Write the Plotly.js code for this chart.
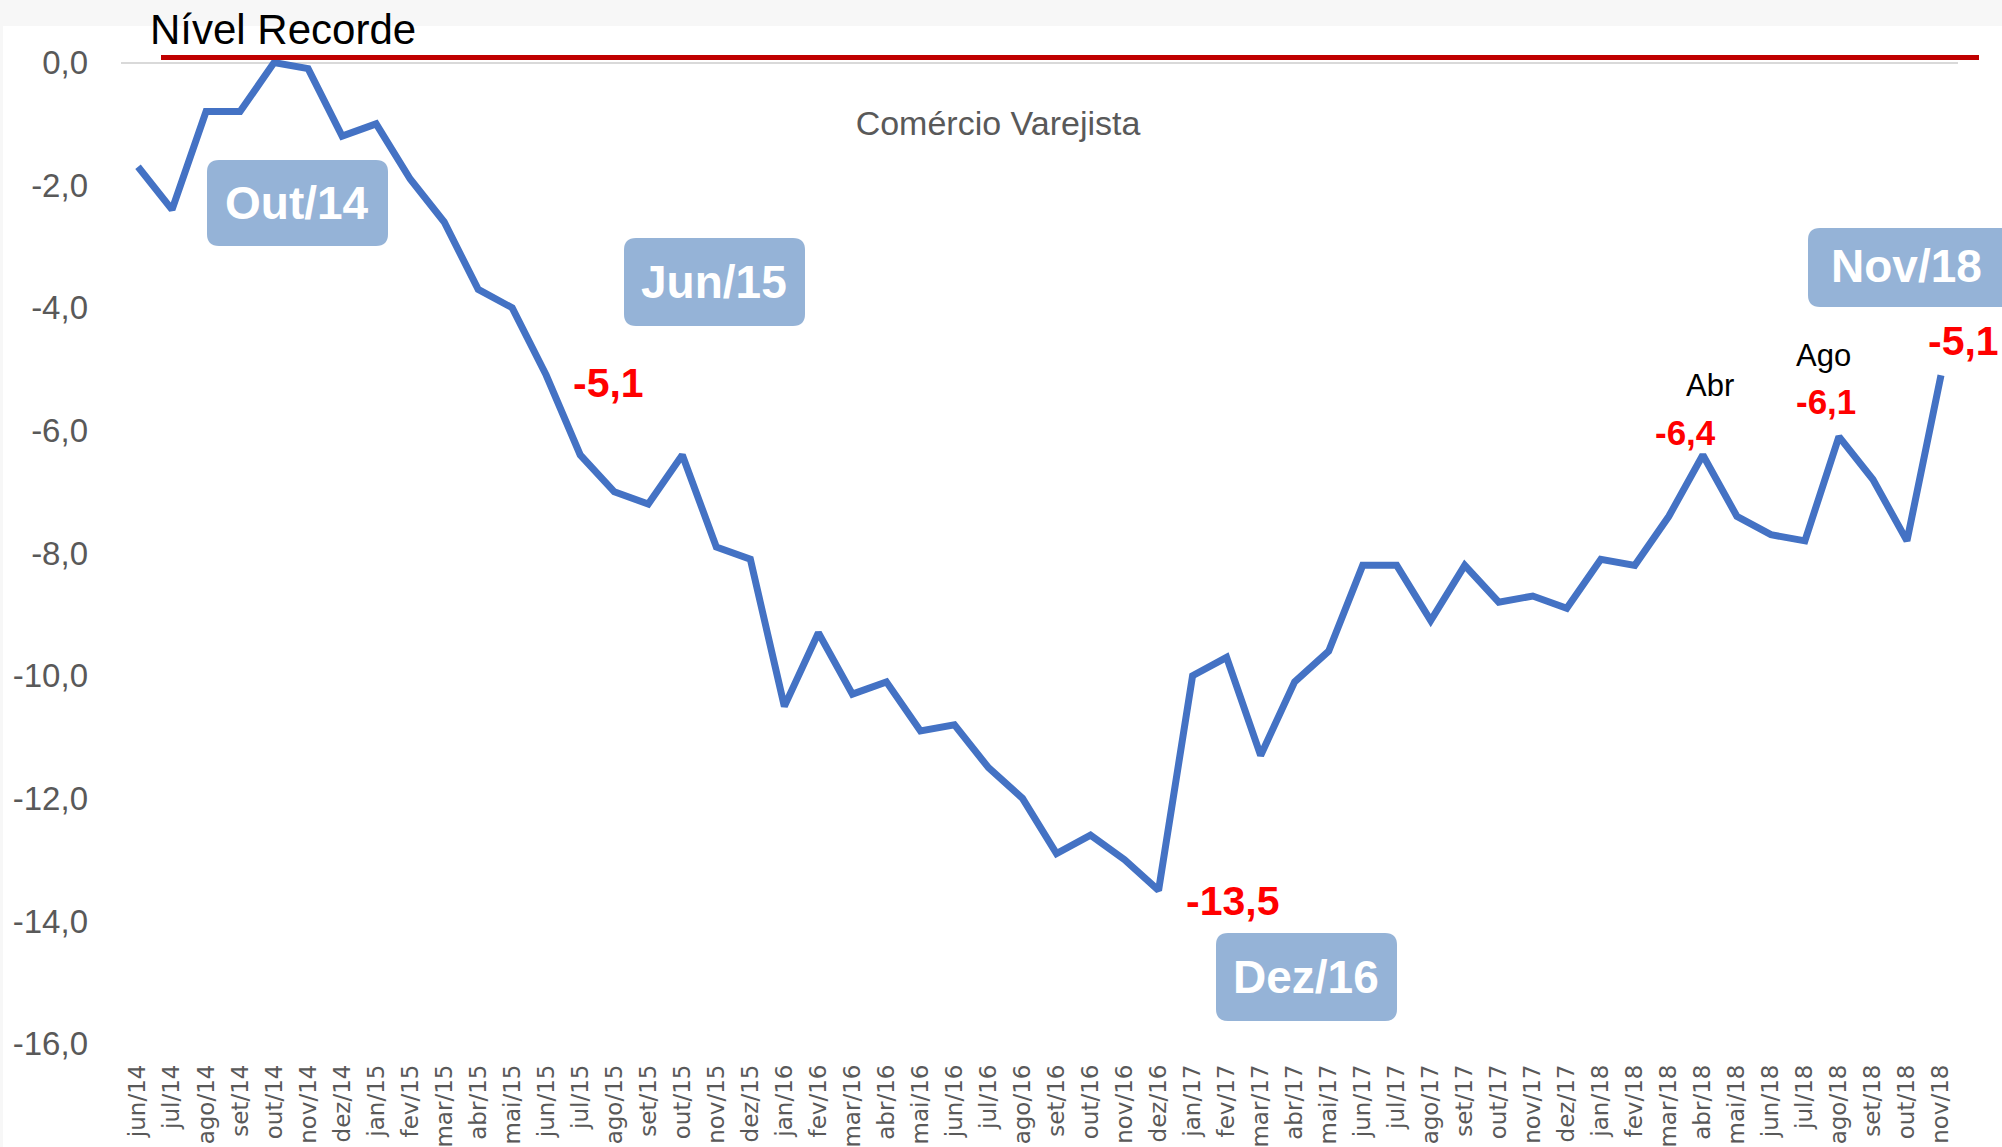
<!DOCTYPE html>
<html>
<head>
<meta charset="utf-8">
<script src="https://cdn.plot.ly/plotly-3.0.1.min.js"></script>
<style>html,body{margin:0;padding:0;background:#fff;}#chart{width:2002px;height:1147px;}</style>
</head>
<body>
<div id="chart"></div>
<script>
const categories = ['jun/14','jul/14','ago/14','set/14','out/14','nov/14','dez/14',
  'jan/15','fev/15','mar/15','abr/15','mai/15','jun/15','jul/15','ago/15','set/15','out/15','nov/15','dez/15',
  'jan/16','fev/16','mar/16','abr/16','mai/16','jun/16','jul/16','ago/16','set/16','out/16','nov/16','dez/16',
  'jan/17','fev/17','mar/17','abr/17','mai/17','jun/17','jul/17','ago/17','set/17','out/17','nov/17','dez/17',
  'jan/18','fev/18','mar/18','abr/18','mai/18','jun/18','jul/18','ago/18','set/18','out/18','nov/18'];

const values = [-1.7,-2.4,-0.8,-0.8,0.0,-0.1,-1.2,
  -1.0,-1.9,-2.6,-3.7,-4.0,-5.1,-6.4,-7.0,-7.2,-6.4,-7.9,-8.1,
  -10.5,-9.3,-10.3,-10.1,-10.9,-10.8,-11.5,-12.0,-12.9,-12.6,-13.0,-13.5,
  -10.0,-9.7,-11.3,-10.1,-9.6,-8.2,-8.2,-9.1,-8.2,-8.8,-8.7,-8.9,
  -8.1,-8.2,-7.4,-6.4,-7.4,-7.7,-7.8,-6.1,-6.8,-7.8,-5.1];

const yTickVals = [-16,-14,-12,-10,-8,-6,-4,-2,0];
const yTickText = ['-16,0','-14,0','-12,0','-10,0','-8,0','-6,0','-4,0','-2,0','0,0'];

const recordLevelText = 'Nível Recorde';
const chartTitle = 'Comércio Varejista';
const recordLevel = 0.08;

// callout boxes: label + category they refer to
const boxLabels = ['Out/14','Jun/15','Dez/16','Nov/18'];
// value labels: category index and optional month caption
const valueLabelIdx = [12, 30, 46, 50, 53];
const monthCaptions = {46:'Abr', 50:'Ago'};

// ---- layout geometry (pixels) ----
const W = 2002, H = 1147;
const M = {l:121, r:44, t:38, b:88};
const L = M.l, R = W - M.r, T = M.t, B = H - M.b;
const px2x = p => (p - L) / (R - L);
const py2y = p => (B - p) / (B - T);

function roundRect(x0, y0, x1, y1, r) {
  const X = px2x, Y = py2y;
  return `M ${X(x0+r)},${Y(y0)} L ${X(x1-r)},${Y(y0)} Q ${X(x1)},${Y(y0)} ${X(x1)},${Y(y0+r)} ` +
         `L ${X(x1)},${Y(y1-r)} Q ${X(x1)},${Y(y1)} ${X(x1-r)},${Y(y1)} ` +
         `L ${X(x0+r)},${Y(y1)} Q ${X(x0)},${Y(y1)} ${X(x0)},${Y(y1-r)} ` +
         `L ${X(x0)},${Y(y0+r)} Q ${X(x0)},${Y(y0)} ${X(x0+r)},${Y(y0)} Z`;
}

const boxGeom = [
  [207, 160, 388, 246],
  [624, 238, 805, 326],
  [1216, 933, 1397, 1021],
  [1808, 228, 2012, 307]
];

const shapes = [
  {type:'rect', xref:'paper', yref:'paper', x0:px2x(0), x1:px2x(W), y0:py2y(0), y1:py2y(26),
   fillcolor:'#F7F7F7', line:{width:0}, layer:'below'},
  {type:'rect', xref:'paper', yref:'paper', x0:px2x(0), x1:px2x(3), y0:py2y(26), y1:py2y(H),
   fillcolor:'#F7F7F7', line:{width:0}, layer:'below'},
  {type:'line', xref:'paper', yref:'y', x0:px2x(161), x1:px2x(1979), y0:recordLevel, y1:recordLevel,
   line:{color:'#C00000', width:5}, layer:'above'}
];
boxGeom.forEach(g => {
  shapes.push({type:'path', xref:'paper', yref:'paper', path:roundRect(g[0], g[1], g[2], g[3], 12),
    fillcolor:'#95B3D7', line:{width:0}, layer:'above'});
});

const annotations = [];
annotations.push({xref:'paper', yref:'paper', x:px2x(283), y:py2y(30), xanchor:'center', yanchor:'middle',
  text:recordLevelText, showarrow:false, font:{family:'Liberation Sans, Arial, sans-serif', size:42, color:'#000000'}});

const boxCenters = [[297,203],[714,282],[1306,977],[1906,266]];
boxLabels.forEach((t, i) => {
  annotations.push({xref:'paper', yref:'paper', x:px2x(boxCenters[i][0]), y:py2y(boxCenters[i][1]),
    xanchor:'center', yanchor:'middle', text:'<b>'+t+'</b>', showarrow:false,
    font:{family:'Liberation Sans, Arial, sans-serif', size:46, color:'#FFFFFF'}});
});

const fmt = v => v.toFixed(1).replace('.', ',');
const valueShift = {12:[62,-8,41], 30:[74,-11,41], 46:[-17,22,35], 50:[-13,35,35], 53:[23,34,41]};
valueLabelIdx.forEach(i => {
  const s = valueShift[i];
  annotations.push({x:categories[i], y:values[i], xref:'x', yref:'y', xshift:s[0], yshift:s[1],
    xanchor:'center', yanchor:'middle', showarrow:false, text:'<b>'+fmt(values[i])+'</b>',
    font:{family:'Liberation Sans, Arial, sans-serif', size:s[2], color:'#FF0000'}});
});
const captionShift = {46:[7,69], 50:[-15,81]};
Object.keys(monthCaptions).forEach(k => {
  const i = +k, s = captionShift[i];
  annotations.push({x:categories[i], y:values[i], xref:'x', yref:'y', xshift:s[0], yshift:s[1],
    xanchor:'center', yanchor:'middle', showarrow:false, text:monthCaptions[i],
    font:{family:'Liberation Sans, Arial, sans-serif', size:31, color:'#000000'}});
});

const trace = {
  type:'scatter', mode:'lines', x:categories, y:values,
  line:{color:'#4472C4', width:7}, hoverinfo:'skip'
};

const layout = {
  width:W, height:H,
  margin:M,
  paper_bgcolor:'#FFFFFF', plot_bgcolor:'#FFFFFF',
  showlegend:false,
  title:{text:chartTitle, x:998/W, y:1-123/H, xref:'container', yref:'container',
    xanchor:'center', yanchor:'middle',
    font:{family:'Liberation Sans, Arial, sans-serif', size:34, color:'#595959'}},
  xaxis:{type:'category', range:[-0.5, categories.length-0.5], showgrid:false, zeroline:false, showline:false,
    ticks:'', tickangle:-90, automargin:false,
    tickfont:{family:'DejaVu Sans, sans-serif', size:23, color:'#595959'}},
  yaxis:{range:[-16.25, 0.4], tickvals:yTickVals, ticktext:yTickText, showgrid:false,
    zeroline:true, zerolinecolor:'#D9D9D9', zerolinewidth:2, showline:false, ticks:'',
    ticklabelstandoff:32, automargin:false,
    tickfont:{family:'Liberation Sans, Arial, sans-serif', size:33, color:'#595959'}},
  shapes:shapes,
  annotations:annotations
};

Plotly.newPlot('chart', [trace], layout, {displayModeBar:false, staticPlot:true});
</script>
</body>
</html>
